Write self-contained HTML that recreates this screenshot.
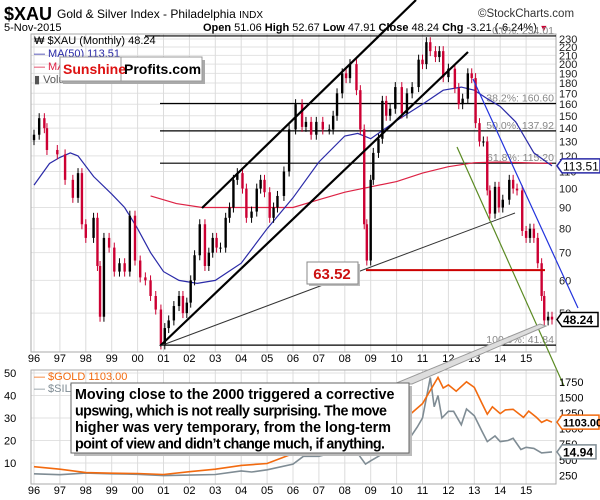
<!DOCTYPE html>
<html><head><meta charset="utf-8"><style>
body{margin:0;background:#fff;width:600px;height:500px;overflow:hidden;font-family:"Liberation Sans",sans-serif}
svg{display:block}
</style></head><body>
<svg id="c" width="600" height="500" viewBox="0 0 600 500" font-family="Liberation Sans, sans-serif">
<rect x="0" y="0" width="600" height="500" fill="#fff"/>
<g>
<text x="4" y="20" font-size="18" font-weight="bold">$XAU</text>
<text x="57" y="18" font-size="12">Gold &amp; Silver Index - Philadelphia <tspan font-size="10">INDX</tspan></text>
<text x="478" y="17" font-size="11.5" fill="#333">©StockCharts.com</text>
<text x="4" y="31" font-size="11">5-Nov-2015</text>
<text x="203" y="31" font-size="11"><tspan font-weight="bold">Open</tspan> 51.06 <tspan font-weight="bold">High</tspan> 52.67 <tspan font-weight="bold">Low</tspan> 47.91 <tspan font-weight="bold">Close</tspan> 48.24 <tspan font-weight="bold">Chg</tspan> -3.21 (-6.24%)<tspan fill="#c03" font-size="9"> ▼</tspan></text>
</g>
<g id="main"></g>
<g id="lower"></g>
</svg>
<script>
const years=['96','97','98','99','00','01','02','03','04','05','06','07','08','09','10','11','12','13','14','15'];
const priceTicks=[230,220,210,200,190,180,170,160,150,140,130,120,110,100,90,80,70,60,50];
const xauDates=[1996.0,1996.2,1996.4,1996.5,1996.9,1997.2,1997.5,1997.7,1997.85,1998.0,1998.3,1998.45,1998.55,1998.7,1998.9,1999.1,1999.3,1999.5,1999.7,1999.9,2000.1,2000.3,2000.5,2000.7,2000.9,2001.05,2001.2,2001.4,2001.6,2001.75,2001.9,2002.05,2002.2,2002.4,2002.6,2002.75,2002.9,2003.05,2003.2,2003.4,2003.55,2003.7,2003.85,2004.05,2004.2,2004.4,2004.6,2004.75,2004.9,2005.1,2005.25,2005.4,2005.65,2005.85,2006.1,2006.35,2006.5,2006.7,2006.9,2007.15,2007.4,2007.55,2007.7,2007.9,2008.05,2008.2,2008.45,2008.6,2008.75,2008.85,2009.0,2009.1,2009.3,2009.45,2009.6,2009.75,2009.95,2010.2,2010.4,2010.6,2010.85,2011.0,2011.15,2011.3,2011.5,2011.65,2011.8,2012.0,2012.25,2012.4,2012.55,2012.75,2012.9,2013.05,2013.2,2013.35,2013.5,2013.6,2013.8,2013.95,2014.1,2014.35,2014.5,2014.65,2014.85,2015.0,2015.15,2015.3,2015.45,2015.6,2015.7,2015.85,2016.0];
const xauClose=[135,148,140,124,121,105,95,109,82,76,85,65,49,76,72,63,66,63,86,67,61,60,55,51,42,46,48,52,55,50,53,60,69,82,65,70,76,72,72,85,90,105,109,100,85,88,100,105,98,85,90,96,110,139,160,141,145,135,145,139,139,150,170,190,185,200,173,139,82,67,105,122,132,163,150,156,176,152,170,176,205,200,226,215,208,215,186,195,175,160,165,190,185,144,130,130,99,87,101,90,94,105,100,99,79,76,80,76,66,55,48,49,48.24];
const ma50Dates=[1996.0,1996.6,1997.0,1997.4,1997.7,1998.3,1999.0,1999.5,2000.0,2000.5,2001.0,2001.6,2002.3,2003.0,2004.0,2005.0,2006.0,2007.0,2008.0,2008.5,2009.0,2010.0,2011.0,2011.8,2012.5,2013.0,2013.5,2014.0,2014.6,2015.3,2016.0];
const ma50Vals=[102,115,119,122,120,107,97,90,80,70,63,60,59,60,66,80,95,116,134,136,132,146,160,173,176,173,165,158,145,122,113.5];
const ma200Dates=[2000.5,2001.5,2002.5,2004.0,2006.0,2007.0,2008.0,2009.0,2010.0,2011.0,2012.0,2013.0,2014.0,2016.0];
const ma200Vals=[96,92,90,90,90,94,98,101,104,109,113,115.5,116,115];
const goldDates=[1996,1997,1998,1999,2000,2001,2002,2003,2004,2005,2006,2006.4,2007,2008,2008.8,2009,2009.9,2010.5,2011,2011.6,2011.8,2012.0,2012.3,2012.7,2013.0,2013.3,2013.5,2013.7,2014.0,2014.2,2014.5,2014.9,2015.1,2015.4,2015.6,2015.8,2016.0];
const goldVals=[390,350,295,285,280,265,310,350,410,440,600,650,650,900,730,900,1100,1220,1400,1820,1650,1700,1600,1750,1660,1400,1230,1350,1240,1300,1310,1180,1280,1180,1100,1140,1103];
const silvDates=[1996,1997,1998,1999,2000,2001,2002,2003,2004,2004.4,2005,2006,2006.4,2007,2008,2008.2,2008.8,2009,2009.9,2010.3,2010.8,2011.0,2011.3,2011.45,2011.6,2011.75,2012.0,2012.2,2012.5,2012.7,2013.0,2013.3,2013.5,2013.8,2014.0,2014.3,2014.5,2014.8,2015.0,2015.3,2015.6,2016.0];
const silvVals=[5.2,4.8,5.5,5.2,5.0,4.4,4.6,4.9,6.5,6.0,7.0,9.5,13,13,16,19,9.5,11,17,17.5,26,30,48,35,40,30,33,33,27,34,31,24,19.5,22,19.5,20,21,16,17,16.5,14.5,14.94];
const goldTicks=[1750,1500,1250,1000,750,500,250];
const silvTicks=[50,40,30,20,10];

const NS='http://www.w3.org/2000/svg';
function mk(p,tag,at,txt){const e=document.createElementNS(NS,tag);for(const k in at)e.setAttribute(k,at[k]);if(txt!==undefined)e.textContent=txt;p.appendChild(e);return e;}
const X=t=>34+(t-1996)*25.9;
const Y=v=>1015.7-179.6*Math.log(v);
const YG=v=>491-v*0.0624;
const YS=v=>485.5-v*2.25;
const L=31,R=556,T=34,B=352;
const main=document.getElementById('main');
const lower=document.getElementById('lower');

let g=mk(main,'g',{});


priceTicks.forEach(v=>{mk(g,'line',{x1:L,x2:R,y1:Y(v),y2:Y(v),stroke:'#e2e2e2'});});
years.forEach((s,i)=>{mk(g,'line',{x1:X(1996+i),x2:X(1996+i),y1:T,y2:B,stroke:'#dcdcdc'});});
mk(main,'rect',{x:L,y:T,width:R-L,height:B-T,fill:'none',stroke:'#aaa'});
let ya=mk(main,'g',{});


priceTicks.forEach(v=>{const t=mk(ya,'text',{x:R+3,y:Y(v)+4,'font-size':11,fill:'#222'},String(v));});
let xa=mk(main,'g',{});


years.forEach((s,i)=>{mk(xa,'text',{x:X(1996+i),y:362,'font-size':11,'text-anchor':'middle'},s);});

let fib=mk(main,'g',{});


[[234.01,'0.0%: 234.01'],[160.6,'38.2%: 160.60'],[137.92,'50.0%: 137.92'],[115.2,'61.8%: 115.20'],[41.84,'100.0%: 41.84']].forEach(f=>{
 mk(fib,'line',{x1:160,x2:R,y1:Y(f[0]),y2:Y(f[0]),stroke:'#000','stroke-width':1.2});
 mk(fib,'text',{x:R-2,y:Y(f[0])-2,'font-size':10.5,fill:'#888','text-anchor':'end'},f[1]);
});

function poly(p,ds,vs,yf,col,w,name){const pts=ds.map((d,i)=>X(d).toFixed(1)+','+yf(vs[i]).toFixed(1)).join(' ');const e=mk(p,'polyline',{points:pts,fill:'none',stroke:col,'stroke-width':w});return e;}
poly(main,ma200Dates,ma200Vals,Y,'#dd2244',1.2,'ma200-line');
poly(main,ma50Dates,ma50Vals,Y,'#2a2aa8',1.2,'ma50-line');

let cg=mk(main,'g',{});


xauClose.forEach((c,i)=>{
 const o=i?xauClose[i-1]:c*0.97;
 const up=c>=o;
 const y1=Y(Math.max(o,c)),y2=Y(Math.min(o,c));
 const x=X(xauDates[i]);
 const col=up?'#000':'#cc0033';
 const w=mk(cg,'line',{x1:x,x2:x,y1:y1-5,y2:y2+5,stroke:col,'stroke-width':1});
 
 
 const b=mk(cg,'rect',{x:x-1.2,y:y1,width:2.4,height:Math.max(1,y2-y1),fill:col});
 
 
});

let tl=mk(main,'g',{});


mk(tl,'line',{x1:202,y1:208,x2:416,y2:0,stroke:'#000','stroke-width':2.2});
mk(tl,'line',{x1:160,y1:346,x2:468,y2:52,stroke:'#000','stroke-width':2.2});
mk(tl,'line',{x1:160,y1:346,x2:515,y2:213,stroke:'#333','stroke-width':1});
mk(tl,'line',{x1:473,y1:79,x2:578,y2:308,stroke:'#2233dd','stroke-width':1.2});
mk(tl,'line',{x1:457,y1:147,x2:564,y2:386,stroke:'#5a8a22','stroke-width':1.2});
mk(tl,'line',{x1:366,y1:Y(63.52),x2:545,y2:Y(63.52),stroke:'#cc0000','stroke-width':2});

let bx=mk(main,'g',{});


mk(bx,'rect',{x:309,y:264,width:51,height:22,fill:'#bbb'});
mk(bx,'rect',{x:307,y:262,width:51,height:22,fill:'#fff',stroke:'#888'});
mk(bx,'text',{x:332,y:279,'font-size':15,'font-weight':'bold',fill:'#cc1111','text-anchor':'middle'},'63.52');

function tag(p,y,txt,col,bold,name,w,fs){const gg=mk(p,'g',{});
 mk(gg,'path',{d:`M${R+1},${y} l5,-7 h${w} v14 h-${w} z`,fill:'#fff',stroke:col,'stroke-width':1.5});
 mk(gg,'text',{x:R+7,y:y+4.5,'font-size':fs||12,'font-weight':bold?'bold':'normal',fill:'#000'},txt);}
tag(main,Y(113.51),'113.51','#2a2aa8',false,'ma50-value-tag',38);
tag(main,Y(48.24),'48.24','#000',true,'close-value-tag',36);

let lg=mk(main,'g',{});


mk(lg,'text',{x:34,y:44,'font-size':11},'₩ $XAU (Monthly) 48.24');
mk(lg,'text',{x:34,y:57,'font-size':11,fill:'#2a2aa8'},'— MA(50) 113.51');
mk(lg,'text',{x:34,y:70,'font-size':11,fill:'#dd2244'},'— MA(200) 113.51');
mk(lg,'text',{x:34,y:83,'font-size':11,fill:'#555'},'▮ Volume undef');
mk(lg,'line',{x1:145,x2:160,y1:Y(234.01),y2:Y(234.01),stroke:'#000','stroke-width':1.2});
let sp=mk(main,'g',{});


mk(sp,'rect',{x:63,y:60,width:142,height:24,fill:'#aaa'});
mk(sp,'rect',{x:60,y:57,width:142,height:24,fill:'#fff',stroke:'#999'});
mk(sp,'line',{x1:121,x2:121,y1:57,y2:81,stroke:'#999'});
mk(sp,'text',{x:63,y:74,'font-size':14,'font-weight':'bold',fill:'#dd1111'},'Sunshine');
mk(sp,'text',{x:124,y:74,'font-size':14,'font-weight':'bold'},'Profits.com');

const LT=370,LB=484;
let lgd=mk(lower,'g',{});


silvTicks.forEach(v=>{mk(lgd,'line',{x1:L,x2:R,y1:YS(v),y2:YS(v),stroke:'#e2e2e2'});mk(lgd,'text',{x:4,y:YS(v)+4,'font-size':11},String(v));});
goldTicks.forEach(v=>{mk(lgd,'text',{x:R+3,y:YG(v)+4,'font-size':11},String(v));});
years.forEach((s,i)=>{mk(lgd,'line',{x1:X(1996+i),x2:X(1996+i),y1:LT,y2:LB,stroke:'#dcdcdc'});mk(lgd,'text',{x:X(1996+i),y:494,'font-size':11,'text-anchor':'middle'},s);});
mk(lower,'rect',{x:L,y:LT,width:R-L,height:LB-LT,fill:'none',stroke:'#aaa'});
poly(lower,silvDates,silvVals,YS,'#7f8c94',1.6,'silver-line');
poly(lower,goldDates,goldVals,YG,'#f26a0f',1.6,'gold-line');
mk(lower,'text',{x:34,y:380,'font-size':11,fill:'#f26a0f'},'— $GOLD 1103.00');
mk(lower,'text',{x:34,y:392,'font-size':11,fill:'#7f8c94'},'— $SILV');
tag(lower,YG(1103),'1103.00','#f26a0f',true,'gold-value-tag',37,11);
tag(lower,YS(14.94),'14.94','#7f8c94',true,'silver-value-tag',34);

let an=mk(lower,'g',{});


mk(an,'polygon',{points:'394,384 412,384 546,326 540,324',fill:'#ddd',stroke:'#999'});
mk(an,'rect',{x:74,y:386,width:338,height:70,fill:'#bbb'});
mk(an,'rect',{x:71,y:383,width:338,height:70,fill:'#fff',stroke:'#666'});
['Moving close to the 2000 triggered a corrective','upswing, which is not really surprising. The move','higher was very temporary, from the long-term','point of view and didn\u2019t change much, if anything.'].forEach((s,i)=>{
 mk(an,'text',{x:75,y:399+i*16.5,'font-size':14.3,'font-weight':'bold','textLength':i==1?312:(i==3?310:null)},s);
});
</script>
</body></html>
